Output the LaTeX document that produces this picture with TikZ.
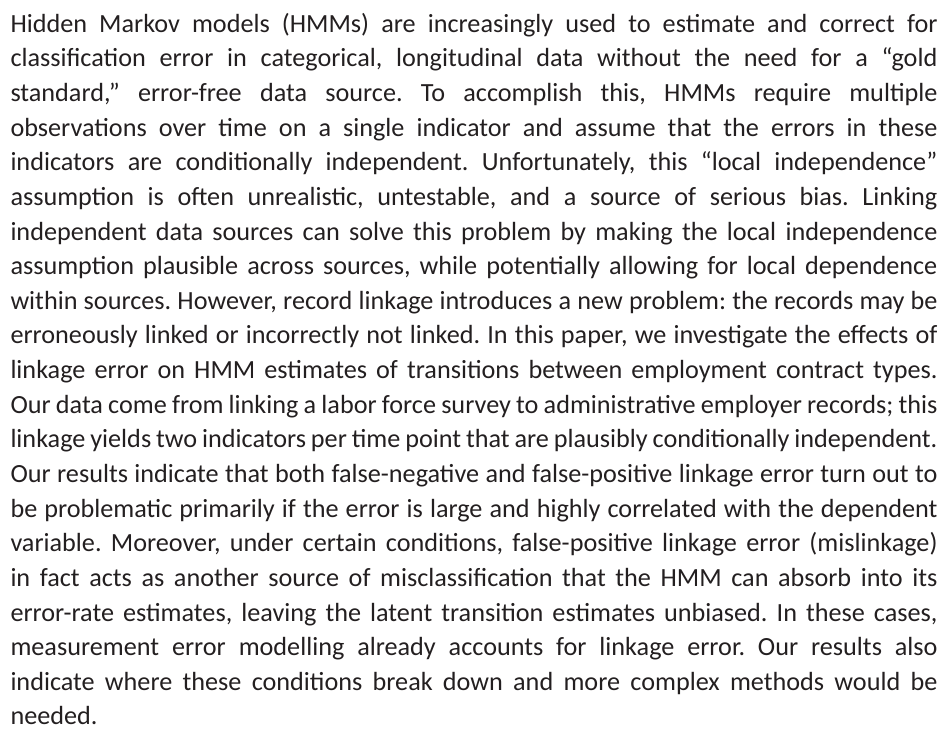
\documentclass[tikz,border=0pt]{standalone}
\usepackage{fontspec}
\setmainfont{Carlito}
\definecolor{txt}{HTML}{231F20}
\begin{document}
\frenchspacing
\begin{tikzpicture}[x=1pt,y=1pt,
  ln/.style={anchor=base west,inner sep=0pt,outer sep=0pt,text=txt,font=\fontsize{26.2}{30}\selectfont\frenchspacing}]
\useasboundingbox (0,0) rectangle (946,729);
\def\W{927pt}
\def\x{10.5}
\def\yy#1{729-32.3-#1*34.63}
\node[ln] (l1) at (\x,{\yy{0}}) {\makebox[\W][s]{Hidden Markov models (HMMs) are increasingly used to estimate and correct for}};
\node[ln] (l2) at (\x,{\yy{1}}) {\makebox[\W][s]{classification error in categorical, longitudinal data without the need for a “gold}};
\node[ln] (l3) at (\x,{\yy{2}}) {\makebox[\W][s]{standard,” error-free data source. To accomplish this, HMMs require multiple}};
\node[ln] (l4) at (\x,{\yy{3}}) {\makebox[\W][s]{observations over time on a single indicator and assume that the errors in these}};
\node[ln] (l5) at (\x,{\yy{4}}) {\makebox[\W][s]{indicators are conditionally independent. Unfortunately, this “local independence”}};
\node[ln] (l6) at (\x,{\yy{5}}) {\makebox[\W][s]{assumption is often unrealistic, untestable, and a source of serious bias. Linking}};
\node[ln] (l7) at (\x,{\yy{6}}) {\makebox[\W][s]{independent data sources can solve this problem by making the local independence}};
\node[ln] (l8) at (\x,{\yy{7}}) {\makebox[\W][s]{assumption plausible across sources, while potentially allowing for local dependence}};
\node[ln] (l9) at (\x,{\yy{8}}) {\makebox[\W][s]{within sources. However, record linkage introduces a new problem: the records may be}};
\node[ln] (l10) at (\x,{\yy{9}}) {\makebox[\W][s]{erroneously linked or incorrectly not linked. In this paper, we investigate the effects of}};
\node[ln] (l11) at (\x,{\yy{10}}) {\makebox[\W][s]{linkage error on HMM estimates of transitions between employment contract types.}};
\node[ln] (l12) at (\x,{\yy{11}}) {\makebox[\W][s]{Our data come from linking a labor force survey to administrative employer records; this}};
\node[ln] (l13) at (\x,{\yy{12}}) {\makebox[\W][s]{linkage yields two indicators per time point that are plausibly conditionally independent.}};
\node[ln] (l14) at (\x,{\yy{13}}) {\makebox[\W][s]{Our results indicate that both false-negative and false-positive linkage error turn out to}};
\node[ln] (l15) at (\x,{\yy{14}}) {\makebox[\W][s]{be problematic primarily if the error is large and highly correlated with the dependent}};
\node[ln] (l16) at (\x,{\yy{15}}) {\makebox[\W][s]{variable. Moreover, under certain conditions, false-positive linkage error (mislinkage)}};
\node[ln] (l17) at (\x,{\yy{16}}) {\makebox[\W][s]{in fact acts as another source of misclassification that the HMM can absorb into its}};
\node[ln] (l18) at (\x,{\yy{17}}) {\makebox[\W][s]{error-rate estimates, leaving the latent transition estimates unbiased. In these cases,}};
\node[ln] (l19) at (\x,{\yy{18}}) {\makebox[\W][s]{measurement error modelling already accounts for linkage error. Our results also}};
\node[ln] (l20) at (\x,{\yy{19}}) {\makebox[\W][s]{indicate where these conditions break down and more complex methods would be}};
\node[ln] (l21) at (\x,{\yy{20}}) {needed.};
\end{tikzpicture}
\end{document}
